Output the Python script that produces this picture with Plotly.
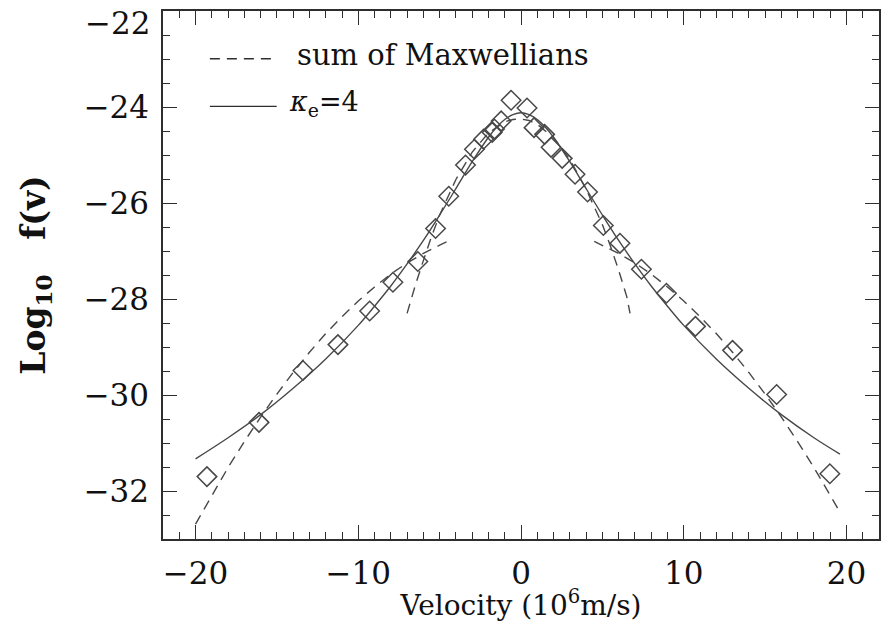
import plotly.graph_objects as go

# Data points (diamonds)
obs_v = [-19.3, -16.1, -13.4, -11.25, -9.3, -7.87, -6.34, -5.25, -4.44, -3.41, -2.86,
         -2.3, -1.77, -1.63, -1.22, -0.61, 0.37, 0.8, 1.45, 1.85, 2.53, 3.32, 4.09,
         5.06, 6.08, 7.4, 8.94, 10.72, 13.0, 15.71, 18.98]
obs_f = [-31.7, -30.57, -29.49, -28.95, -28.25, -27.65, -27.22, -26.53, -25.86, -25.21, -24.88,
         -24.67, -24.53, -24.46, -24.29, -23.86, -24.02, -24.43, -24.57, -24.84, -25.07, -25.4, -25.77,
         -26.47, -26.84, -27.38, -27.88, -28.57, -29.07, -29.99, -31.64]

# kappa_e = 4 fit (solid line)
kap_v = [-20, -18, -16, -14, -12, -10, -9, -8, -7, -6, -5, -4, -3, -2, -1.5, -1, -0.5, 0,
         0.5, 1, 1.5, 2, 3, 4, 5, 6, 7, 8, 9, 10, 12, 14, 16, 18, 19.6]
kap_f = [-31.33, -30.89, -30.41, -29.86, -29.25, -28.55, -28.15, -27.73, -27.27, -26.78, -26.25,
         -25.70, -25.14, -24.63, -24.42, -24.26, -24.16, -24.12,
         -24.16, -24.26, -24.42, -24.63, -25.14, -25.70, -26.25, -26.78, -27.27, -27.73, -28.15,
         -28.55, -29.25, -29.86, -30.41, -30.89, -31.23]

# Sum of Maxwellians (dashed): core and halo components
core_v = [-7, -6.5, -6, -5.5, -5, -4, -3, -2, -1, -0.5, 0, 0.5, 1, 2, 3, 4, 5, 5.5, 6, 6.5, 6.7]
core_f = [-28.30, -27.72, -27.20, -26.70, -26.25, -25.51, -24.94, -24.54, -24.31, -24.26, -24.25,
          -24.28, -24.36, -24.64, -25.09, -25.71, -26.45, -26.90, -27.40, -27.95, -28.30]
halo_l_v = [-20, -19, -18, -17, -16, -15, -14, -13, -12, -11, -10, -9, -8, -7, -6, -5, -4.5]
halo_l_f = [-32.69, -32.09, -31.51, -30.97, -30.46, -29.98, -29.53, -29.11, -28.72, -28.37,
            -28.04, -27.75, -27.48, -27.25, -27.05, -26.88, -26.80]
halo_r_v = [4.5, 5, 6, 7, 8, 9, 10, 11, 12, 13, 14, 15, 16, 17, 18, 19, 19.6]
halo_r_f = [-26.80, -26.88, -27.05, -27.25, -27.48, -27.75, -28.04, -28.37, -28.72, -29.11,
            -29.53, -29.98, -30.46, -30.97, -31.51, -32.09, -32.44]

x_ticks = [-20, -10, 0, 10, 20]
y_ticks = [-24, -26, -28, -30, -32]
y_top_tick = -22  # label at the top edge of the frame

LINE = "#484848"
AX = "#2e2e2e"
TXT = "#111111"
FONT = "DejaVu Serif"
DASH = "10px,7px"
TICKSIZE = 31

dash_v = core_v + [None] + halo_l_v + [None] + halo_r_v
dash_f = core_f + [None] + halo_l_f + [None] + halo_r_f

fig = go.Figure()
fig.add_trace(go.Scatter(x=dash_v, y=dash_f, mode="lines", connectgaps=False,
                         line=dict(color=LINE, width=1.4, dash=DASH), showlegend=False))
fig.add_trace(go.Scatter(x=kap_v, y=kap_f, mode="lines", line=dict(color=LINE, width=1.4, shape="spline"),
                         showlegend=False))
fig.add_trace(go.Scatter(x=obs_v, y=obs_f, mode="markers",
                         marker=dict(symbol="diamond-open", size=15, color=LINE, line=dict(width=1.5, color=LINE)),
                         showlegend=False))

# manual legend
PW, PH, PL, PB = 718, 531, 163, 542
fig.add_shape(type="line", xref="paper", yref="paper", x0=(210-PL)/PW, x1=(276-PL)/PW,
              y0=(PB-59)/PH, y1=(PB-59)/PH, line=dict(color=AX, width=1.3, dash=DASH))
fig.add_shape(type="line", xref="paper", yref="paper", x0=(210-PL)/PW, x1=(277-PL)/PW,
              y0=(PB-107)/PH, y1=(PB-107)/PH, line=dict(color=AX, width=1.3))
fig.add_annotation(xref="paper", yref="paper", x=(295-PL)/PW, y=(PB-55)/PH, xanchor="left",
                   yanchor="middle", showarrow=False, text="sum of Maxwellians",
                   font=dict(family=FONT, size=29, color=TXT))
fig.add_annotation(xref="paper", yref="paper", x=(287-PL)/PW, y=(PB-104)/PH, xanchor="left",
                   yanchor="middle", showarrow=False, text="<i>κ</i><sub>e</sub>=4",
                   font=dict(family=FONT, size=27, color=TXT))

# top tick label (-22), nudged down into the image as in the original
fig.add_annotation(xref="paper", yref="y", x=0, y=y_top_tick, xanchor="right", yanchor="middle",
                   xshift=-11, yshift=-12, showarrow=False, text=f"{y_top_tick}".replace("-", "−"),
                   font=dict(family=FONT, size=TICKSIZE, color=TXT))

axis_common = dict(showgrid=False, zeroline=False, showline=True, linecolor=AX, linewidth=1.5,
                   mirror="ticks", ticks="inside", tickcolor=AX, tickwidth=1.3, ticklen=14,
                   tickfont=dict(family=FONT, size=TICKSIZE, color=TXT))

fig.update_xaxes(range=[-22, 22], tickvals=x_ticks, ticktext=[f"{v}".replace("-", "−") for v in x_ticks],
                 minor=dict(dtick=1, ticks="inside", ticklen=7, tickcolor=AX, tickwidth=1.2),
                 ticklabelstandoff=6,
                 title=dict(text="Velocity (10<sup>6</sup>m/s)", font=dict(family=FONT, size=28, color=TXT),
                            standoff=2),
                 **axis_common)
fig.update_yaxes(range=[-33, -22], tickvals=[y_top_tick] + y_ticks,
                 ticktext=[""] + [f"{v}".replace("-", "−") for v in y_ticks],
                 minor=dict(dtick=0.5, ticks="inside", ticklen=7, tickcolor=AX, tickwidth=1.2),
                 ticklabelstandoff=6,
                 title=dict(text="<b>Log<sub>10</sub>   f(v)</b>", font=dict(family=FONT, size=33, color=TXT),
                            standoff=28),
                 **axis_common)

fig.update_layout(width=890, height=622, margin=dict(l=163, r=9, t=11, b=80),
                  plot_bgcolor="white", paper_bgcolor="white", showlegend=False)

fig.write_html("out.html")
